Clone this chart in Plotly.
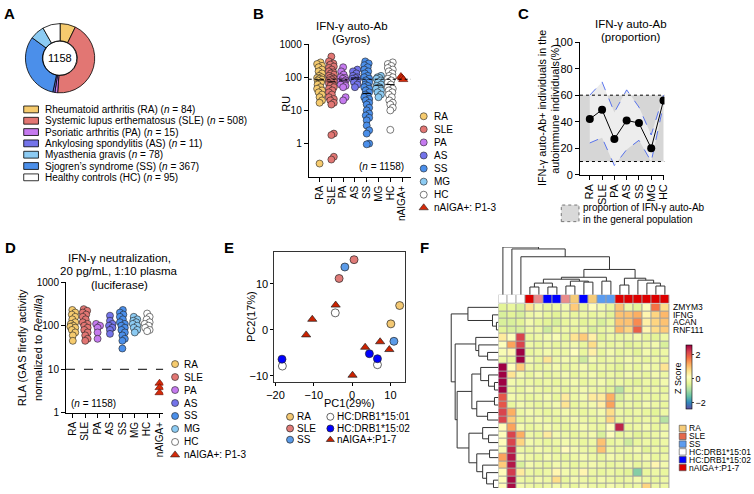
import numpy as np
import plotly.graph_objects as go

# ---------------- DATA ----------------
# Panel A (pie, clockwise from 12 o'clock)
A_pie_labels = ["RA", "SLE", "PA", "AS", "SS", "MG", "HC"]
A_pie_counts = [84, 508, 15, 11, 367, 78, 95]
A_legend_text = ["Rheumatoid arthritis (RA) (<i>n</i> = 84)",
                 "Systemic lupus erthematosus (SLE) (<i>n</i> = 508)",
                 "Psoriatic arthritis (PA) (<i>n</i> = 15)",
                 "Ankylosing spondylitis (AS) (<i>n</i> = 11)",
                 "Myasthenia gravis (<i>n</i> = 78)",
                 "Sjogren’s syndrome (SS) (<i>n</i> = 367)",
                 "Healthy controls (HC) (<i>n</i> = 95)"]
A_legend_keys = ["RA", "SLE", "PA", "AS", "MG", "SS", "HC"]
A_total = "1158"

# Panel B (RU, Gyros)
B_cats = ["RA", "SLE", "PA", "AS", "SS", "MG", "HC", "nAIGA+"]
B_RA = [280, 250, 220, 200, 170, 150, 130, 110, 100, 95, 90, 85, 80, 70, 60, 50, 45, 40, 35, 30, 25, 20, 17, 0.25]
B_SLE = [420, 300, 260, 240, 210, 190, 170, 150, 140, 130, 120, 110, 100, 95, 90, 85, 80, 75, 70, 65, 60, 55,
         50, 45, 40, 35, 30, 25, 22, 20, 17, 15, 2.0, 1.8, 0.4, 0.33]
B_PA = [200, 150, 120, 100, 95, 90, 80, 75, 70, 60, 55, 50, 25, 20]
B_AS = [170, 150, 130, 110, 100, 95, 90, 80, 70, 60, 50]
B_SS = [300, 260, 230, 200, 170, 150, 130, 110, 100, 90, 80, 70, 60, 55, 50, 45, 40, 35, 30, 27, 25, 22, 20,
        17, 15, 12, 10, 8, 7, 6, 5, 3.5, 2.5, 2.0, 1.0, 0.95]
B_MG = [110, 100, 95, 90, 80, 70, 60, 55, 50, 45, 40, 35, 30, 25]
B_HC = [280, 250, 220, 190, 170, 150, 130, 110, 100, 90, 80, 70, 60, 50, 45, 40, 35, 30, 25, 20, 17, 15, 12, 10, 2.6]
B_nAIGA = [105, 95, 85]
B_cutoff = 87

# Panel C (proportion)
C_cats = ["RA", "SLE", "PA", "AS", "SS", "MG", "HC"]
C_prop = [42, 49, 27, 41, 39, 20, 56]
C_upper = [60, 70, 47, 64, 51, 30, 60]
C_lower = [24, 28, 7, 19, 26, 10, 53]
C_general = [10, 60]

# Panel D (luciferase RLA)
D_cats = ["RA", "SLE", "PA", "AS", "SS", "MG", "HC", "nAIGA+"]
D_RA = [230, 200, 180, 160, 140, 120, 110, 100, 95, 90, 80, 70, 60, 45]
D_SLE = [240, 220, 200, 180, 160, 140, 120, 110, 100, 90, 80, 70, 60, 50, 45]
D_PA = [110, 100, 90, 70, 50]
D_AS = [170, 130, 110, 100, 90, 80, 65]
D_SS = [230, 200, 180, 160, 140, 120, 110, 100, 90, 80, 70, 60, 50, 45, 30]
D_MG = [160, 140, 130, 120, 110, 100, 90, 80, 70]
D_HC = [190, 160, 140, 120, 110, 100, 90, 80, 75]
D_nAIGA = [4.8, 3.8, 2.9]
D_cutoff = 10

# Panel E (PCA)
E_RA_x, E_RA_y = [12.4, 10.1], [5.3, 1.3]
E_SLE_x, E_SLE_y = [0.5, -3.4], [15.3, 11.2]
E_SS_x, E_SS_y = [-1.9, 10.9], [13.7, -2.5]
E_HC1_x, E_HC1_y = [-4.4, -18.2, 6.6], [3.7, -7.9, -7.6]
E_HC2_x, E_HC2_y = [-18.3, 4.5, 6.6], [-6.4, -5.2, -6.3]
E_nA_x = [-4.3, -10.4, -12.0, 3.4, 7.3, 9.7, 0.1]
E_nA_y = [5.4, 2.3, -1.1, -3.8, -2.6, -4.3, -9.9]

# Panel F (heatmap, z-scores)
F_genes = ["ZMYM3", "IFNG", "ACAN", "RNF111"]
F_col_groups = ["HC01", "HC01", "HC01", "nAIGA", "SLE", "HC02", "HC02", "SLE", "RA", "HC02", "RA", "SS", "SS",
                "nAIGA", "nAIGA", "nAIGA", "nAIGA", "nAIGA", "nAIGA"]
F_z = [
    [-0.4, -0.3, -0.5, 0.6, -0.1, -0.3, -0.2, -0.1, 0.9, -0.3, 0.2, -0.1, -0.3, 1.0, -0.2, -0.4, 0.1, 1.7, 0.7],
    [-0.5, -0.4, -0.5, -0.2, -0.1, -0.3, -0.4, -0.2, -0.3, -0.2, -0.3, -0.2, -0.4, 1.0, 1.0, 1.2, 0.3, 0.8, 1.1],
    [-0.5, -0.5, -0.4, -0.1, -0.3, -0.4, -0.5, -0.3, -0.2, -0.4, -0.3, -0.5, -0.3, 1.0, 1.0, 1.5, 0.4, 0.8, 1.0],
    [-0.4, -0.5, -0.5, -0.2, -0.2, -0.6, -0.3, -0.2, -0.3, -0.2, -0.5, -0.3, -0.2, 1.1, 0.8, 1.9, 0.3, 0.7, 0.9],
    [0.5, 0.1, 2.2, -0.3, -0.2, -0.1, 0.0, -0.3, 0.6, 0.9, 0.4, -0.4, -0.2, -0.3, -0.2, -0.1, -0.3, -0.4, -0.2],
    [0.1, 1.3, 2.2, -0.2, -0.3, -0.2, -0.3, -0.2, -0.1, -0.3, 0.7, -0.2, -0.3, -0.2, -0.4, -0.3, -0.2, -0.1, -0.5],
    [0.0, 0.3, 2.8, -0.3, -0.2, -0.1, -0.2, -0.2, 0.1, -0.3, 0.4, -0.3, -0.1, -0.3, -0.2, -0.4, -0.1, -0.3, -0.2],
    [-0.2, -0.3, 2.8, -0.1, -0.3, 0.6, -0.2, -0.1, -0.2, -0.6, -0.1, -0.3, -0.2, -0.3, -0.1, -0.2, -0.3, -0.2, -0.3],
    [2.9, 0.1, 0.9, -0.2, -0.3, -0.2, -0.1, -0.3, -0.2, -0.1, -0.3, -0.2, -0.3, -0.4, -0.2, -0.3, -0.1, -0.2, 0.6],
    [2.9, 0.6, -0.1, -0.3, -0.1, -0.3, -0.2, -0.1, -0.3, -0.2, -0.1, -0.3, -0.2, -0.3, -0.1, -0.2, -0.3, -0.1, -0.2],
    [2.9, -0.1, -0.2, -0.2, -0.3, -0.2, -0.3, -0.2, -0.1, -0.3, -0.2, -0.1, -0.3, -0.2, -0.3, -0.4, -0.2, -0.3, -0.1],
    [2.9, -0.2, -0.3, -0.1, -0.2, -0.3, -0.2, -0.3, -0.2, -0.1, -0.2, -0.3, -0.4, -0.8, -0.3, -0.2, -0.3, -0.2, -0.3],
    [2.0, -0.1, -0.2, -0.3, -0.2, -0.1, -0.3, 0.5, -0.2, -0.1, 0.5, 0.5, 1.2, -0.5, -0.2, -0.3, -0.2, -0.3, -0.2],
    [2.0, -0.3, -0.1, -0.2, -0.3, -0.2, -0.1, 0.6, -0.3, -0.2, -0.1, 0.4, 1.3, -0.3, -0.2, -0.3, -0.1, -0.2, -0.3],
    [2.2, 1.2, -0.2, -0.1, -0.2, -0.3, -0.2, -0.1, -0.2, -0.3, -0.2, -0.1, 0.7, -0.2, -0.3, -0.2, -0.3, -0.4, -0.2],
    [2.2, 0.9, -0.3, -0.2, -0.1, -0.2, -0.3, -0.2, -0.1, -0.2, -0.3, -0.2, 0.8, -0.3, -0.2, -0.3, -0.2, -0.3, -0.8],
    [0.2, 1.3, -0.1, -0.3, -0.2, -0.1, -0.2, -0.3, -0.2, -0.1, -0.2, -0.3, 0.1, 2.5, -0.3, -0.2, -0.1, -0.3, -0.2],
    [0.1, 2.2, 1.2, -0.2, -0.3, 0.5, -0.1, -0.2, -0.3, -0.2, -0.1, -0.5, 0.1, -0.3, -0.2, -0.4, -0.3, -0.2, -0.1],
    [0.2, 2.2, 0.8, -0.1, -0.2, -0.3, -0.2, -0.1, -0.2, -0.3, -0.2, 1.0, -0.3, -0.2, -0.6, -0.3, -0.2, -0.3, -0.2],
    [0.0, 2.5, -0.2, -0.3, -0.1, -0.2, -0.3, 0.2, -0.1, -0.2, -0.3, 1.0, -0.2, -0.3, -0.2, -0.1, -0.4, -0.2, -0.3],
    [1.3, 2.6, -0.1, -0.2, -0.3, -0.1, -0.2, -0.3, -0.2, -0.1, -0.2, -0.3, -0.1, -0.2, -0.3, -0.2, -0.1, -0.3, -0.2],
    [0.9, 2.6, -0.5, -0.1, -0.2, -0.3, -0.1, -0.2, -0.3, -0.2, -0.1, -0.2, -0.3, -0.2, -0.1, -0.3, -0.2, 0.3, -0.1],
    [0.2, 2.3, 0.5, -0.2, -0.3, -0.2, 0.3, -0.1, -0.2, 0.3, -0.2, -0.3, -0.2, -0.3, -0.4, -1.2, -0.3, -0.2, -0.3],
    [0.1, 2.7, -0.2, -0.3, -0.1, -0.2, 0.7, -0.3, -0.1, -0.2, -0.3, -0.1, -0.2, -0.3, -0.2, -0.1, -0.2, -0.3, -0.2],
    [0.2, 2.7, -0.1, -0.2, -0.3, -0.2, -0.1, -0.2, -0.3, -0.1, -0.2, -0.3, -0.1, -0.2, -0.3, -0.2, 0.8, -0.2, -0.2],
]
# dendrograms: (left, right, height)
F_col_tree = (0, (1, (2, (((((3, 4, 8), (5, 6, 8), 12), ((7, 8, 9), (9, 10, 13), 14), 16), (11, 12, 14), 18),
                           ((13, 14, 10), (15, (16, (17, 18, 9), 12), 15), 17), 26), 39), 47), 49)
F_row_tree = ((0, (1, (2, 3, 2), 6), 31),
              ((4, (5, (6, 7, 11), 20), 23),
               (((8, (9, (10, 11, 4), 10), 18), ((12, 13, 4), (14, 15, 11), 22), 27),
                ((16, (17, 18, 10), 16), ((19, 20, 9), (21, (22, (23, 24, 5), 12), 16), 22), 30), 42), 44), 48)

# ---------------- STYLE ----------------
FONT = "Liberation Sans, Arial, Helvetica, sans-serif"
W, H = 754, 494
COL = {"RA": "#F6CB6E", "SLE": "#E27673", "PA": "#C57AEF", "AS": "#7474EA", "SS": "#4B8FEA",
       "MG": "#8CCBF3", "HC": "#FFFFFF", "nAIGA+": "#D42A0A"}
FCOL = {"RA": "#F5CB78", "SLE": "#E98C8C", "SS": "#5C9CEF", "HC01": "#FFFFFF", "HC02": "#0000FF", "nAIGA": "#DD0000"}


def PX(x):
    return x / W


def PY(y):
    return 1 - y / H


fig = go.Figure()
ann, shp = [], []


def text(x, y, s, size=10, xa="center", ya="middle", angle=0, bold=False):
    ann.append(dict(x=PX(x), y=PY(y), xref="paper", yref="paper", text=f"<b>{s}</b>" if bold else s,
                    showarrow=False, xanchor=xa, yanchor=ya, textangle=angle,
                    font=dict(size=size, color="black", family=FONT)))


def swarm(vals, ppu, log, diam, maxoff):
    v = np.asarray(vals, float)
    ys = (np.log10(v) if log else v) * ppu
    order = np.argsort(ys)
    placed = []
    offs = np.zeros(len(v))
    steps = np.arange(0.5, maxoff + 1e-9, 0.5)
    cands = [0.0] + [s * k for k in steps for s in (1, -1)]
    for i in order:
        y = ys[i]
        best, bestd = 0.0, -1
        for c in cands:
            dmin = min([np.hypot(c - px, y - py) for px, py in placed] + [1e9])
            if dmin >= diam:
                best = c
                break
            if dmin > bestd:
                bestd, best = dmin, c
        placed.append((best, y))
        offs[i] = best
    return offs


axc = dict(showgrid=False, zeroline=False, showline=True, linecolor="black", linewidth=1, ticks="outside",
           ticklen=4, tickwidth=1, tickcolor="black", tickfont=dict(size=10, family=FONT, color="black"))

# ---------------- A ----------------
fig.add_trace(go.Pie(values=A_pie_counts, labels=A_pie_labels, sort=False, direction="clockwise", hole=0.5,
                     marker=dict(colors=[COL[k] for k in A_pie_labels], line=dict(color="black", width=0.8)),
                     textinfo="none", hoverinfo="label+value", showlegend=False,
                     domain=dict(x=[PX(17), PX(89)], y=[PY(89), PY(18)])))
shp.append(dict(type="circle", xref="paper", yref="paper", x0=PX(35), x1=PX(70), y0=PY(71), y1=PY(36),
                line=dict(color="black", width=0.8)))
text(52.5, 53.5, A_total, size=11)
for i, (k, t) in enumerate(zip(A_legend_keys, A_legend_text)):
    yy = 106 + i * 11.6
    shp.append(dict(type="rect", xref="paper", yref="paper", x0=PX(16), x1=PX(31), y0=PY(yy + 3.5),
                    y1=PY(yy - 3.5), fillcolor=COL[k], line=dict(color="black", width=0.8)))
    text(36, yy, t, size=10, xa="left")

# ---------------- B ----------------
B_groups = [B_RA, B_SLE, B_PA, B_AS, B_SS, B_MG, B_HC]
for gi, vals in enumerate(B_groups):
    offs = swarm(vals, 34, True, 4.0, 2.5)
    fig.add_trace(go.Scatter(x=gi + offs / 12.0, y=vals, mode="markers", xaxis="x", yaxis="y",
                             marker=dict(size=7, color=COL[B_cats[gi]], line=dict(color="#222", width=0.6)),
                             showlegend=False))
    med = float(np.median(vals))
    fig.add_trace(go.Scatter(x=[gi - 0.35, gi + 0.35], y=[med, med], mode="lines", xaxis="x", yaxis="y",
                             line=dict(color="black", width=1), showlegend=False, hoverinfo="skip"))
fig.add_trace(go.Scatter(x=[7 - 0.1, 7, 7 + 0.1], y=B_nAIGA, mode="markers", xaxis="x", yaxis="y",
                         marker=dict(size=8, symbol="triangle-up", color=COL["nAIGA+"],
                                     line=dict(color="#5A0A00", width=0.6)), showlegend=False))
shp.append(dict(type="line", xref="x", yref="y", x0=-0.92, x1=7.75, y0=B_cutoff, y1=B_cutoff,
                line=dict(color="black", width=1, dash="dot")))
text(350, 21, "IFN-γ auto-Ab", size=11.5)
text(350, 34, "(Gyros)", size=11.5)
text(282, 100, "RU", size=11, angle=-90)
text(380, 165, "(<i>n</i> = 1158)", size=10)
text(255, 8, "B", size=15, bold=True)

# legend B
for i, k in enumerate(B_cats):
    yy = 113 + i * 13.4
    sym = "triangle-up" if k == "nAIGA+" else "circle"
    fig.add_trace(go.Scatter(x=[423], y=[yy], mode="markers", xaxis="x9", yaxis="y9",
                             marker=dict(size=7 if sym == "circle" else 8, symbol=sym, color=COL[k],
                                         line=dict(color="#222", width=0.6)), showlegend=False, hoverinfo="skip"))
    text(431, yy, "nAIGA+: P1-3" if k == "nAIGA+" else k, size=10, xa="left")

# ---------------- C ----------------
xC = list(range(len(C_cats)))
shp.append(dict(type="rect", xref="x2", yref="y2", x0=-0.8, x1=6.0, y0=C_general[0], y1=C_general[1],
                fillcolor="#D6D6D6", line=dict(width=0), layer="below"))
fig.add_trace(go.Scatter(x=xC, y=C_lower, mode="lines", xaxis="x2", yaxis="y2",
                         line=dict(color="#3355EE", width=0.8, dash="dash"), showlegend=False))
fig.add_trace(go.Scatter(x=xC, y=C_upper, mode="lines", xaxis="x2", yaxis="y2", fill="tonexty",
                         fillcolor="#EDEDED", line=dict(color="#3355EE", width=0.8, dash="dash"),
                         showlegend=False))
for gv in C_general:
    shp.append(dict(type="line", xref="x2", yref="y2", x0=-0.8, x1=6.08, y0=gv, y1=gv,
                    line=dict(color="black", width=1, dash="dot")))
fig.add_trace(go.Scatter(x=xC, y=C_prop, mode="lines+markers", xaxis="x2", yaxis="y2",
                         line=dict(color="black", width=1), marker=dict(size=8, color="black"),
                         showlegend=False))
text(634, 18, "IFN-γ auto-Ab", size=11.5)
text(634, 32, "(proportion)", size=11.5)
text(544, 105, "IFN-γ auto-Ab+ individuals in the", size=10.8, angle=-90)
text(557, 105, "autoimmune individuals(%)", size=10.8, angle=-90)
shp.append(dict(type="rect", xref="paper", yref="paper", x0=PX(563), x1=PX(581), y0=PY(221), y1=PY(204),
                fillcolor="#D9D9D9", line=dict(color="#777", width=1, dash="dot")))
text(583, 207, "proportion of IFN-γ auto-Ab", size=10, xa="left")
text(583, 219, "in the general population", size=10, xa="left")
text(525, 8, "C", size=15, bold=True)

# ---------------- D ----------------
D_groups = [D_RA, D_SLE, D_PA, D_AS, D_SS, D_MG, D_HC]
for gi, vals in enumerate(D_groups):
    offs = swarm(vals, 44.7, True, 4.0, 2.5)
    fig.add_trace(go.Scatter(x=gi + offs / 12.6, y=vals, mode="markers", xaxis="x3", yaxis="y3",
                             marker=dict(size=7, color=COL[D_cats[gi]], line=dict(color="#222", width=0.6)),
                             showlegend=False))
fig.add_trace(go.Scatter(x=[7, 7, 7], y=D_nAIGA, mode="markers", xaxis="x3", yaxis="y3",
                         marker=dict(size=8, symbol="triangle-up", color=COL["nAIGA+"],
                                     line=dict(color="#5A0A00", width=0.6)), showlegend=False))
shp.append(dict(type="line", xref="x3", yref="y3", x0=-0.55, x1=7.3, y0=D_cutoff, y1=D_cutoff,
                line=dict(color="black", width=1, dash="dash")))
text(113, 258, "IFN-γ neutralization,", size=11.5)
text(113, 272, "20 pg/mL, 1:10 plasma", size=11.5)
text(113, 286, "(luciferase)", size=11.5)
text(15, 350, "RLA (GAS firefly activity", size=11, angle=-90)
text(31, 350, "normalized to <i>Renilla</i>)", size=11, angle=-90)
text(87, 407, "(<i>n</i> = 1158)", size=10)
text(3, 248, "D", size=15, bold=True)
for i, k in enumerate(D_cats):
    yy = 367 + i * 13.3
    sym = "triangle-up" if k == "nAIGA+" else "circle"
    fig.add_trace(go.Scatter(x=[170], y=[yy], mode="markers", xaxis="x9", yaxis="y9",
                             marker=dict(size=7 if sym == "circle" else 8, symbol=sym, color=COL[k],
                                         line=dict(color="#222", width=0.6)), showlegend=False, hoverinfo="skip"))
    text(177, yy, "nAIGA+: P1-3" if k == "nAIGA+" else k, size=10, xa="left")

# ---------------- E ----------------
E_sets = [("RA", E_RA_x, E_RA_y, "#F3C873", "circle"), ("SLE", E_SLE_x, E_SLE_y, "#E07B78", "circle"),
          ("SS", E_SS_x, E_SS_y, "#5B9BE8", "circle"), ("HC:DRB1*15:01", E_HC1_x, E_HC1_y, "#FFFFFF", "circle"),
          ("HC:DRB1*15:02", E_HC2_x, E_HC2_y, "#0000FF", "circle"),
          ("nAIGA+:P1-7", E_nA_x, E_nA_y, "#CC2200", "triangle-up")]
for name, xs, ys, c, sym in E_sets:
    fig.add_trace(go.Scatter(x=xs, y=ys, mode="markers", xaxis="x4", yaxis="y4", name=name,
                             marker=dict(size=8, symbol=sym, color=c, line=dict(color="#222", width=0.7)),
                             showlegend=False))
text(347, 407, "PC1(29%)", size=11)
text(248, 318, "PC2(17%)", size=11, angle=-90)
text(225, 247, "E", size=15, bold=True)
E_leg_pos = [(287, 421), (287, 433), (287, 444.5), (328, 421), (328, 433), (328, 444.5)]
for (name, xs, ys, c, sym), (lx, ly) in zip(E_sets, E_leg_pos):
    fig.add_trace(go.Scatter(x=[lx], y=[ly], mode="markers", xaxis="x9", yaxis="y9",
                             marker=dict(size=7, symbol=sym, color=c, line=dict(color="#222", width=0.7)),
                             showlegend=False, hoverinfo="skip"))
    text(lx + 5, ly, name, size=10, xa="left")

# ---------------- F ----------------
spectral_r = ["#5E4FA2", "#3288BD", "#66C2A5", "#ABDDA4", "#E6F598", "#FFFFBF", "#FEE08B", "#FDAE61",
              "#F46D43", "#D53E4F", "#9E0142"]
cs = [[i / 10, c] for i, c in enumerate(spectral_r)]
nrow, ncol = len(F_z), len(F_z[0])
ROWH = 7.7
HM_TOP, HM_L, HM_R = 305, 499, 673
y5_bottom = -0.5 + (H - HM_TOP) / ROWH
shp.append(dict(type="rect", xref="paper", yref="paper", x0=PX(HM_L), x1=PX(HM_R), y0=0, y1=PY(HM_TOP),
                fillcolor="#9E9E9E", line=dict(width=0), layer="below"))
shp.append(dict(type="rect", xref="paper", yref="paper", x0=PX(HM_L), x1=PX(HM_R), y0=PY(304.5), y1=PY(296),
                fillcolor="#9E9E9E", line=dict(width=0), layer="below"))
fig.add_trace(go.Heatmap(z=F_z, x=list(range(ncol)), y=list(range(nrow)), xaxis="x5", yaxis="y5",
                         colorscale=cs, zmin=-2.5, zmax=2.8, xgap=1, ygap=1,
                         colorbar=dict(x=PX(690), xanchor="left", y=PY(380), yanchor="middle",
                                       len=66 / H, lenmode="fraction", thickness=6, outlinewidth=0.6,
                                       outlinecolor="black", tickvals=[-2, 0, 2], ticktext=["−2", "0", "2"],
                                       ticks="outside", ticklen=2, tickfont=dict(size=9, family=FONT),
                                       xpad=0, ypad=0)))
grp_order = ["HC01", "HC02", "SLE", "RA", "SS", "nAIGA"]
codes = [grp_order.index(g) for g in F_col_groups]
dcs = []
for i, g in enumerate(grp_order):
    dcs += [[i / 6, FCOL[g]], [(i + 1) / 6, FCOL[g]]]
fig.add_trace(go.Heatmap(z=[codes], x=list(range(ncol)), y=[0], xaxis="x5", yaxis="y6", colorscale=dcs,
                         zmin=-0.5, zmax=5.5, showscale=False, xgap=1, ygap=0))


def dendro(tree):
    segs_a, segs_b = [], []

    def rec(node):
        if isinstance(node, int):
            return float(node), 0.0
        l, r, h = node
        al, hl = rec(l)
        ar, hr = rec(r)
        segs_a.extend([al, al, ar, ar, None])
        segs_b.extend([hl, h, h, hr, None])
        return (al + ar) / 2, h

    rec(tree)
    return segs_a, segs_b


cxa, cxh = dendro(F_col_tree)
fig.add_trace(go.Scatter(x=cxa, y=cxh, mode="lines", xaxis="x5", yaxis="y7",
                         line=dict(color="#333", width=1), showlegend=False, hoverinfo="skip"))
rya, ryh = dendro(F_row_tree)
fig.add_trace(go.Scatter(x=ryh, y=rya, mode="lines", xaxis="x6", yaxis="y5",
                         line=dict(color="#333", width=1), showlegend=False, hoverinfo="skip"))
for i, gname in enumerate(F_genes):
    ann.append(dict(x=PX(675), y=i, xref="paper", yref="y5", text=gname, showarrow=False, xanchor="left",
                    yanchor="middle", font=dict(size=8.5, family=FONT, color="black")))
text(681, 381, "Z Score", size=9, angle=-90)
F_leg = [("RA", "#F5CB78"), ("SLE", "#E5694A"), ("SS", "#5C9CEF"), ("HC:DRB1*15:01", "#FFFFFF"),
         ("HC:DRB1*15:02", "#0000FF"), ("nAIGA+:P1-7", "#DD0000")]
for i, (nm, c) in enumerate(F_leg):
    yy = 433 + i * 8
    shp.append(dict(type="rect", xref="paper", yref="paper", x0=PX(683), x1=PX(690), y0=PY(yy + 3.3),
                    y1=PY(yy - 3.3), fillcolor=c, line=dict(color="#444", width=0.6)))
    text(691, yy, nm, size=8.5, xa="left")
text(424, 247, "F", size=15, bold=True)
text(2, 8, "A", size=15, bold=True)

# ---------------- LAYOUT ----------------
lay = dict(width=W, height=H, margin=dict(l=0, r=0, t=0, b=0), paper_bgcolor="white",
           plot_bgcolor="rgba(0,0,0,0)", showlegend=False, font=dict(family=FONT, color="black"),
           annotations=ann, shapes=shp)
lay["xaxis"] = dict(axc, domain=[PX(306), PX(410)], range=[-0.92, 7.75], anchor="y", tickvals=list(range(8)),
                    ticktext=B_cats, tickangle=-90)
lay["yaxis"] = dict(axc, domain=[PY(175), PY(39)], type="log", range=[-1, 3], anchor="x",
                    tickvals=[1, 10, 100, 1000], ticktext=["1", "10", "100", "1000"])
lay["xaxis2"] = dict(axc, domain=[PX(582), PX(668)], range=[-0.8, 6.08], anchor="y2", tickvals=xC,
                     ticktext=C_cats, tickangle=-90, tickfont=dict(size=11, family=FONT))
lay["yaxis2"] = dict(axc, domain=[PY(173), PY(37)], range=[0, 100], anchor="x2", dtick=20,
                     tickfont=dict(size=11, family=FONT))
lay["xaxis3"] = dict(axc, domain=[PX(59), PX(158)], range=[-0.55, 7.3], anchor="y3", tickvals=list(range(8)),
                     ticktext=D_cats, tickangle=-90)
lay["yaxis3"] = dict(axc, domain=[PY(417), PY(283)], type="log", range=[0, 3], anchor="x3",
                     tickvals=[1, 10, 100, 1000], ticktext=["1", "10", "100", "1000"])
lay["xaxis4"] = dict(axc, domain=[PX(271), PX(404)], range=[-20.3, 13.8], anchor="y4", mirror=True,
                     tickvals=[-20, -10, 0, 10], linecolor="#333", ticklen=3, tickfont=dict(size=11, family=FONT))
lay["yaxis4"] = dict(axc, domain=[PY(385), PY(252)], range=[-11.3, 17], anchor="x4", mirror=True,
                     tickvals=[-10, 0, 10], linecolor="#333", ticklen=3, tickfont=dict(size=11, family=FONT))
lay["xaxis5"] = dict(domain=[PX(HM_L), PX(HM_R)], range=[-0.5, ncol - 0.5], anchor="y5", visible=False)
lay["yaxis5"] = dict(domain=[0, PY(HM_TOP)], range=[y5_bottom, -0.5], anchor="x5", visible=False)
lay["yaxis6"] = dict(domain=[PY(304.5), PY(296)], range=[-0.5, 0.5], anchor="x5", visible=False)
lay["yaxis7"] = dict(domain=[PY(296), PY(247)], range=[0, 49], anchor="x5", visible=False)
lay["xaxis6"] = dict(domain=[PX(449), PX(HM_L)], range=[50, 0], anchor="y5", visible=False)
lay["xaxis9"] = dict(domain=[0, 1], range=[0, W], anchor="y9", visible=False)
lay["yaxis9"] = dict(domain=[0, 1], range=[H, 0], anchor="x9", visible=False)
fig.update_layout(**lay)
fig.write_html("out.html", config={"displayModeBar": False},
               post_script="document.body.style.margin='0';document.body.style.overflow='hidden';")
